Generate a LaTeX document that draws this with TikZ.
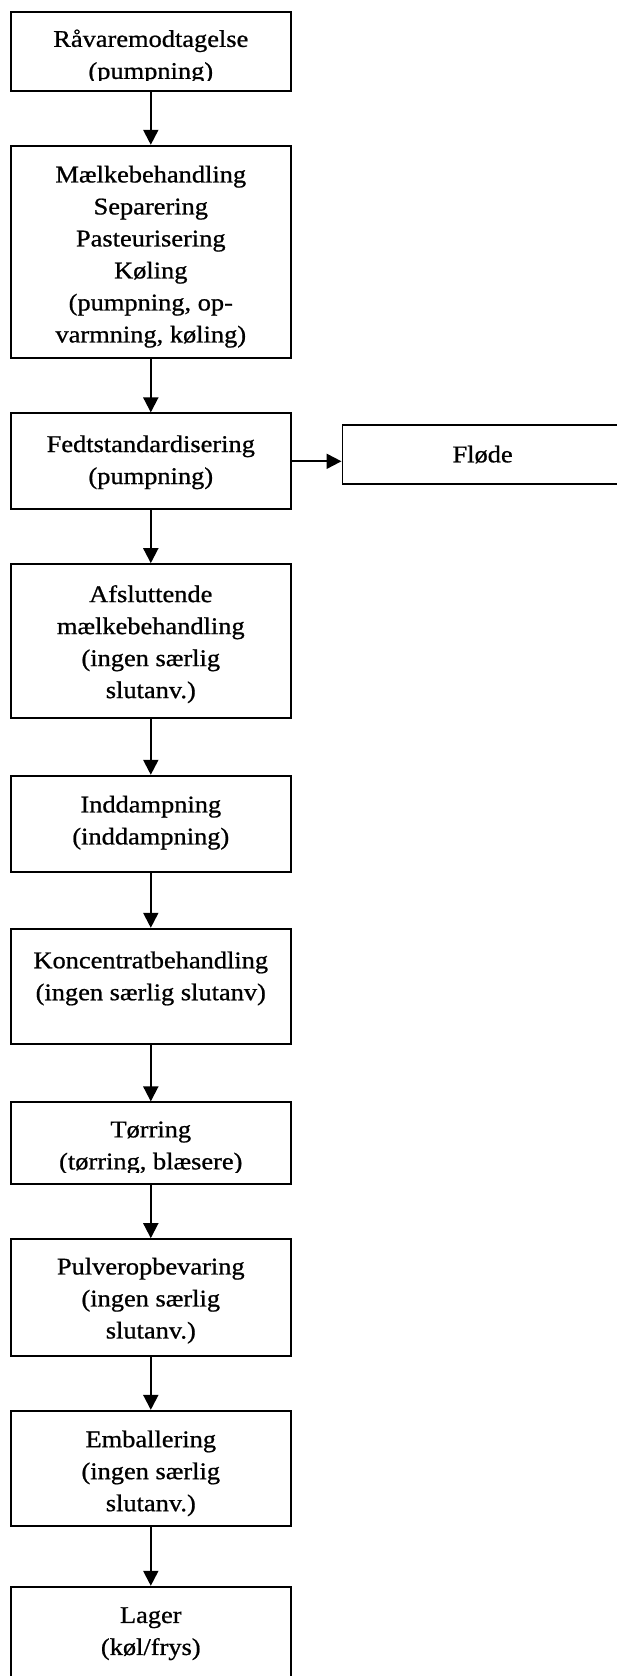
\documentclass[tikz,border=0pt]{standalone}
\usepackage{fontspec}
\setmainfont{Liberation Serif}[FakeStretch=1.1,FakeBold=0.8]
\usetikzlibrary{arrows.meta}
\tikzset{
  stepbox/.style={draw=black, line width=1.8pt, minimum width=280.4pt, inner sep=0pt},
  txt/.style={align=center, inner sep=0pt, font=\fontsize{24pt}{32pt}\selectfont},
  flow/.style={line width=2pt, -{Triangle[width=15pt,length=15pt]}},
}
\begin{document}
\begin{tikzpicture}[x=1pt,y=-1pt]
\useasboundingbox (0,0) rectangle (617,1676);
\node[stepbox, minimum height=79pt, label={[txt,yshift=-5pt]center:{Råvaremodtagelse\\(pumpning)}}] (b1) at (150.8,51.8) {};
\node[stepbox, minimum height=212pt, label={[txt,yshift=-5pt]center:{Mælkebehandling\\Separering\\Pasteurisering\\Køling\\(pumpning, op-\\varmning, køling)}}] (b2) at (150.8,251.7) {};
\node[stepbox, minimum height=96pt, label={[txt,yshift=-1pt]center:{Fedtstandardisering\\(pumpning)}}] (b3) at (150.8,461.3) {};
\node[stepbox, minimum height=58.4pt, label={[txt]center:{Fløde}}] (fl) at (482.6,454.5) {};
\node[stepbox, minimum height=154.3pt, label={[txt,yshift=-3pt]center:{Afsluttende\\mælkebehandling\\(ingen særlig\\slutanv.)}}] (b4) at (150.8,641.2) {};
\node[stepbox, minimum height=96pt, label={[txt,yshift=1pt]center:{Inddampning\\(inddampning)}}] (b5) at (150.8,823.7) {};
\node[stepbox, minimum height=115.6pt, label={[txt,yshift=8pt]center:{Koncentratbehandling\\(ingen særlig slutanv)}}] (b6) at (150.8,986.5) {};
\node[stepbox, minimum height=81.4pt, label={[txt,yshift=-5pt]center:{Tørring\\(tørring, blæsere)}}] (b7) at (150.8,1143) {};
\node[stepbox, minimum height=117.3pt, label={[txt,yshift=-3pt]center:{Pulveropbevaring\\(ingen særlig\\slutanv.)}}] (b8) at (150.8,1297.7) {};
\node[stepbox, minimum height=115.3pt, label={[txt,yshift=-5pt]center:{Emballering\\(ingen særlig\\slutanv.)}}] (b9) at (150.8,1468.4) {};
\node[stepbox, minimum height=120pt, label={[txt,yshift=13pt]center:{Lager\\(køl/frys)}}] (b10) at (150.8,1646.7) {};
% text cut off at the bottom of two boxes, as in the original
\fill[white] ([xshift=2pt,yshift=1.9pt]b1.south west) rectangle ([xshift=-2pt,yshift=11.1pt]b1.south east);
\fill[white] ([xshift=2pt,yshift=1.9pt]b7.south west) rectangle ([xshift=-2pt,yshift=11.2pt]b7.south east);
\draw[flow] (b1) -- (b2);
\draw[flow] (b2) -- (b3);
\draw[flow] (b3.east) -- (b3.east -| fl.west);
\draw[flow] (b3) -- (b4);
\draw[flow] (b4) -- (b5);
\draw[flow] (b5) -- (b6);
\draw[flow] (b6) -- (b7);
\draw[flow] (b7) -- (b8);
\draw[flow] (b8) -- (b9);
\draw[flow] (b9) -- (b10);
\end{tikzpicture}
\end{document}
